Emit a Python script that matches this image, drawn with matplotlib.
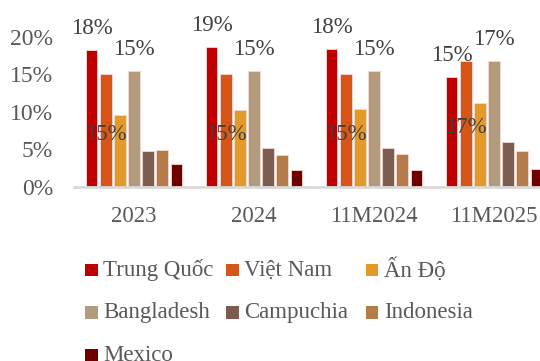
import matplotlib
matplotlib.use("Agg")
import matplotlib.pyplot as plt
import numpy as np
from matplotlib.patches import Rectangle

plt.rcParams['font.family'] = ['Liberation Serif', 'DejaVu Serif']

categories = ['2023', '2024', '11M2024', '11M2025']
series_names = ['Trung Quốc', 'Việt Nam', 'Ấn Độ', 'Bangladesh', 'Campuchia', 'Indonesia', 'Mexico']
trung_quoc = [0.182, 0.186, 0.184, 0.146]
viet_nam = [0.150, 0.150, 0.150, 0.168]
an_do = [0.096, 0.102, 0.103, 0.111]
bangladesh = [0.154, 0.154, 0.154, 0.167]
campuchia = [0.048, 0.052, 0.052, 0.060]
indonesia = [0.049, 0.042, 0.043, 0.047]
mexico = [0.030, 0.022, 0.022, 0.024]
series_values = [trung_quoc, viet_nam, an_do, bangladesh, campuchia, indonesia, mexico]
colors = ['#C00000', '#D75617', '#E39A27', '#B39C7E', '#7D5C50', '#B57C49', '#700000']
y_ticks = [0, 0.05, 0.10, 0.15, 0.20]

W, H = 540, 361
fig = plt.figure(figsize=(5.4, 3.61), dpi=100)
base_px = 186.7
px_per_pct = 7.5
ax = fig.add_axes([74 / W, 1 - base_px / H, 480 / W, base_px / H])
ax.set_ylim(0, base_px / px_per_pct / 100)
ax.set_xlim(-0.5, len(categories) - 0.5)

x = np.arange(len(categories))
step = 0.1178
width = 0.0975
bar_groups = []
for i, (vals, col) in enumerate(zip(series_values, colors)):
    bars = ax.bar(x + (i - 3) * step, vals, width, color=col,
                  edgecolor='#F3D9D0', linewidth=0.6, label=series_names[i], zorder=2)
    bar_groups.append(bars)

label_color = '#404040'
fs = 16.5
# labels above Trung Quoc and Bangladesh bars
for idx in (0, 3):
    for b, v in zip(bar_groups[idx], series_values[idx]):
        ax.annotate(f'{v*100:.0f}%', (b.get_x() + b.get_width() / 2, v),
                    xytext=(0, 8), textcoords='offset points',
                    ha='center', va='bottom', fontsize=fs, color=label_color,
                    annotation_clip=False, zorder=5)
# labels centered in Viet Nam bars
for b, v in zip(bar_groups[1], series_values[1]):
    ax.annotate(f'{v*100:.0f}%', (b.get_x() + b.get_width() / 2, v / 2),
                xytext=(0, -3), textcoords='offset points',
                ha='center', va='center', fontsize=fs, color=label_color, zorder=5)

ax.set_yticks(y_ticks)
ax.set_yticklabels([f'{t*100:.0f}%' for t in y_ticks])
ax.set_xticks(x)
ax.set_xticklabels(categories)
ax.tick_params(axis='y', length=0, pad=15, labelsize=17, labelcolor='#595959')
ax.tick_params(axis='x', length=0, pad=14, labelsize=16.5, labelcolor='#595959')
for s in ['top', 'right', 'left']:
    ax.spines[s].set_visible(False)
ax.spines['bottom'].set_color('#D9D9D9')
ax.spines['bottom'].set_linewidth(2)
ax.spines['bottom'].set_zorder(3)

# legend (manual layout, 3 columns)
col_x = [85.4, 226, 365.7]
row_y = [270, 312.6, 355.6]
sw = 12.7
for i, name in enumerate(series_names):
    r, c = divmod(i, 3)
    cx, cy = col_x[c], row_y[r]
    fig.patches.append(Rectangle((cx / W, 1 - (cy + sw / 2) / H), sw / W, sw / H,
                                 transform=fig.transFigure, facecolor=colors[i],
                                 edgecolor='none'))
    fig.text((cx + 18) / W, 1 - cy / H, name, ha='left', va='center',
             fontsize=16.5, color='#595959')

fig.savefig('out.png', dpi=100)
